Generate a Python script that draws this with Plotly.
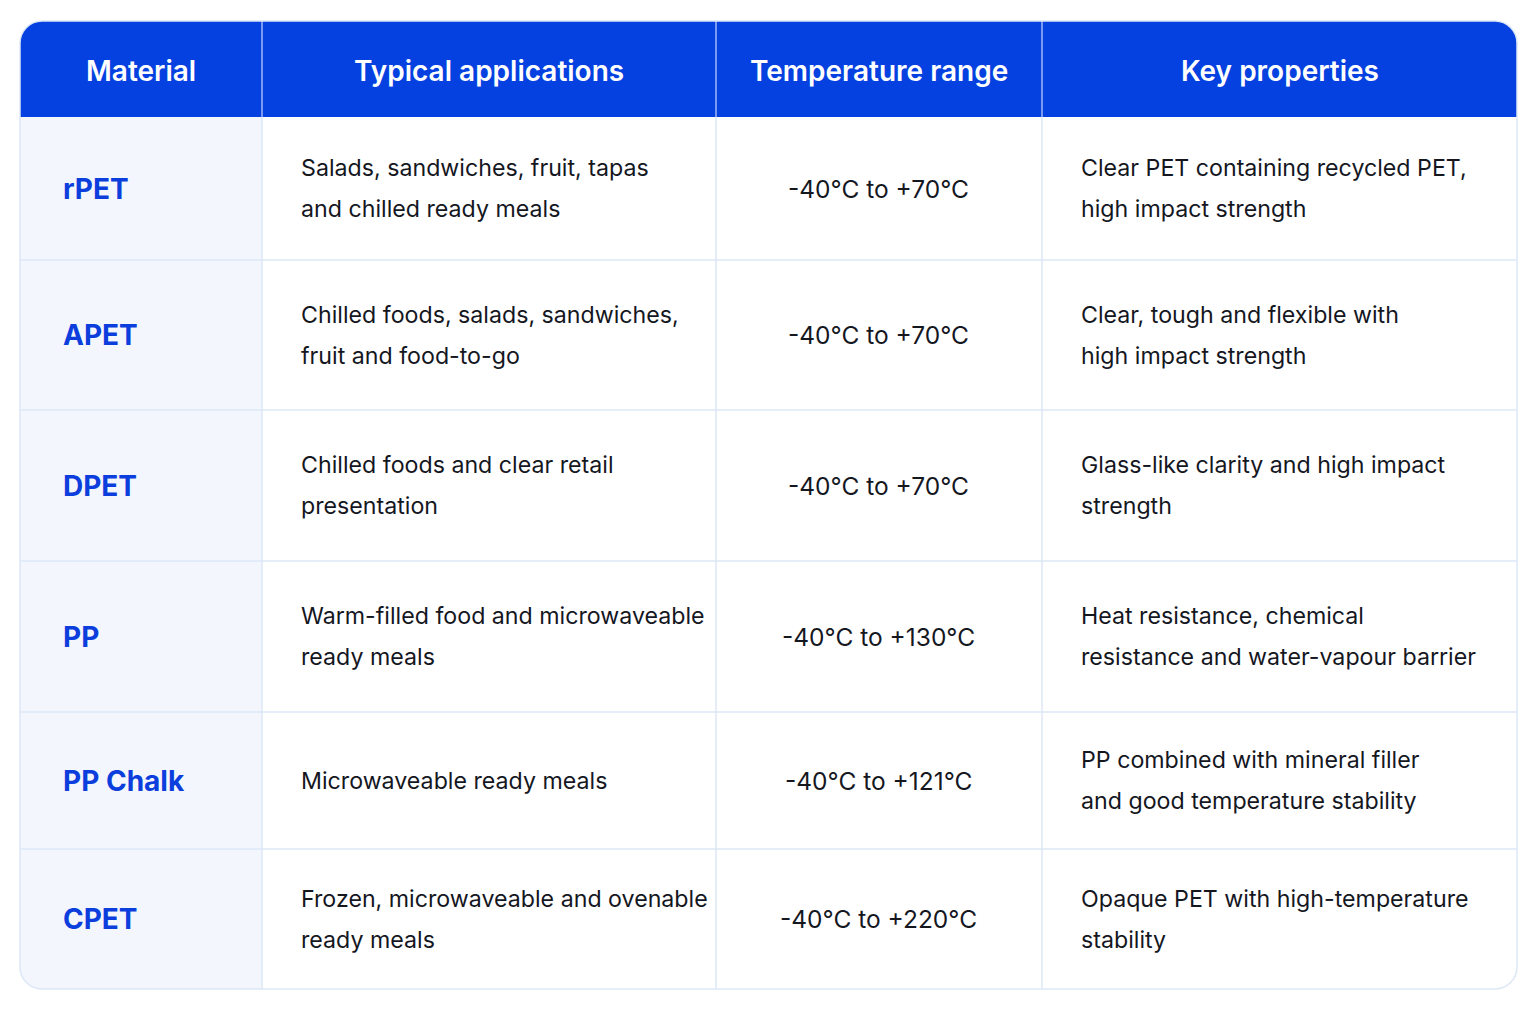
import plotly.graph_objects as go

# Data
headers = ["Material", "Typical applications", "Temperature range", "Key properties"]
materials = ["rPET", "APET", "DPET", "PP", "PP Chalk", "CPET"]
applications = [
    "Salads, sandwiches, fruit, tapas<br>and chilled ready meals",
    "Chilled foods, salads, sandwiches,<br>fruit and food-to-go",
    "Chilled foods and clear retail<br>presentation",
    "Warm-filled food and microwaveable<br>ready meals",
    "Microwaveable ready meals",
    "Frozen, microwaveable and ovenable<br>ready meals",
]
temperatures = [
    "-40°C to +70°C",
    "-40°C to +70°C",
    "-40°C to +70°C",
    "-40°C to +130°C",
    "-40°C to +121°C",
    "-40°C to +220°C",
]
properties = [
    "Clear PET containing recycled PET,<br>high impact strength",
    "Clear, tough and flexible with<br>high impact strength",
    "Glass-like clarity and high impact<br>strength",
    "Heat resistance, chemical<br>resistance and water-vapour barrier",
    "PP combined with mineral filler<br>and good temperature stability",
    "Opaque PET with high-temperature<br>stability",
]

# Layout geometry (pixel units on the axes)
W, H = 1536, 1024
OFF = 8  # page body margin
col_edges = [20, 262, 716, 1042, 1517]
row_edges = [21, 117, 260, 410, 561, 712, 849, 989]
R = 22
K = 0.55 * R

BLUE = "#0441E0"
MAT_BLUE = "#0B3EDC"
GRID = "#DCE7F6"
LEFT_FILL = "#F3F7FD"
TEXT = "#15171F"
FONT = "Inter"

x0, x1 = col_edges[0], col_edges[-1]
y0, y1 = row_edges[0], row_edges[-1]
yh = row_edges[1]


def rounded_path(xa, ya, xb, yb, tl, tr, br, bl):
    p = f"M {xa + tl},{ya} L {xb - tr},{ya} "
    if tr:
        p += f"C {xb - tr + K},{ya} {xb},{ya + tr - K} {xb},{ya + tr} "
    p += f"L {xb},{yb - br} "
    if br:
        p += f"C {xb},{yb - br + K} {xb - br + K},{yb} {xb - br},{yb} "
    p += f"L {xa + bl},{yb} "
    if bl:
        p += f"C {xa + bl - K},{yb} {xa},{yb - bl + K} {xa},{yb - bl} "
    p += f"L {xa},{ya + tl} "
    if tl:
        p += f"C {xa},{ya + tl - K} {xa + tl - K},{ya} {xa + tl},{ya} "
    return p + "Z"


shapes = []
# table body background
shapes.append(dict(type="path", path=rounded_path(x0, y0, x1, y1, R, R, R, R),
                   fillcolor="white", line=dict(width=0), layer="below"))
# first column tint
shapes.append(dict(type="path",
                   path=rounded_path(x0, yh, col_edges[1], y1, 0, 0, 0, R),
                   fillcolor=LEFT_FILL, line=dict(width=0), layer="below"))
# header band
shapes.append(dict(type="path", path=rounded_path(x0, y0, x1, yh, R, R, 0, 0),
                   fillcolor=BLUE, line=dict(width=0), layer="below"))
# row separators
for y in row_edges[2:-1]:
    shapes.append(dict(type="line", x0=x0, x1=x1, y0=y, y1=y,
                       line=dict(color=GRID, width=1.5), layer="below"))
# column separators
for x in col_edges[1:-1]:
    shapes.append(dict(type="line", x0=x, x1=x, y0=y0, y1=yh,
                       line=dict(color="#C9D6FA", width=1.2), layer="below"))
    shapes.append(dict(type="line", x0=x, x1=x, y0=yh, y1=y1,
                       line=dict(color=GRID, width=1.5), layer="below"))
# outer border
shapes.append(dict(type="path", path=rounded_path(x0, y0, x1, y1, R, R, R, R),
                   fillcolor="rgba(0,0,0,0)", line=dict(color=GRID, width=1.5),
                   layer="below"))

annotations = []
header_y = (y0 + yh) / 2 + 2
for i, h in enumerate(headers):
    annotations.append(dict(x=(col_edges[i] + col_edges[i + 1]) / 2, y=header_y,
                            text=h, showarrow=False, xanchor="center",
                            yanchor="middle",
                            font=dict(family=FONT, size=28, color="white",
                                      weight=600)))

LINE_GAP = 41
for r in range(len(materials)):
    cy = (row_edges[r + 1] + row_edges[r + 2]) / 2
    annotations.append(dict(x=col_edges[0] + 41, y=cy, text=materials[r],
                            showarrow=False, xanchor="left", yanchor="middle",
                            font=dict(family=FONT, size=28, color=MAT_BLUE,
                                      weight=700)))
    for c, col_text in ((1, applications[r]), (3, properties[r])):
        lines = col_text.split("<br>")
        start = cy - LINE_GAP * (len(lines) - 1) / 2
        for k, line in enumerate(lines):
            annotations.append(dict(x=col_edges[c] + 37, y=start + k * LINE_GAP,
                                    text=line, showarrow=False, xanchor="left",
                                    yanchor="middle",
                                    font=dict(family=FONT, size=23.2, color=TEXT)))
    annotations.append(dict(x=(col_edges[2] + col_edges[3]) / 2 - 1, y=cy,
                            text=temperatures[r], showarrow=False,
                            xanchor="center", yanchor="middle",
                            font=dict(family=FONT, size=24.5, color=TEXT)))

fig = go.Figure()
# invisible anchor trace so the axes exist
fig.add_trace(go.Scatter(x=[0, W], y=[0, H], mode="markers",
                         marker=dict(opacity=0), hoverinfo="skip",
                         showlegend=False))
fig.update_layout(
    width=W, height=H,
    margin=dict(l=0, r=0, t=0, b=0),
    paper_bgcolor="white", plot_bgcolor="white",
    xaxis=dict(range=[OFF, W + OFF], visible=False, fixedrange=True),
    yaxis=dict(range=[H + OFF, OFF], visible=False, fixedrange=True),
    shapes=shapes, annotations=annotations,
)

fig.write_html("out.html")
